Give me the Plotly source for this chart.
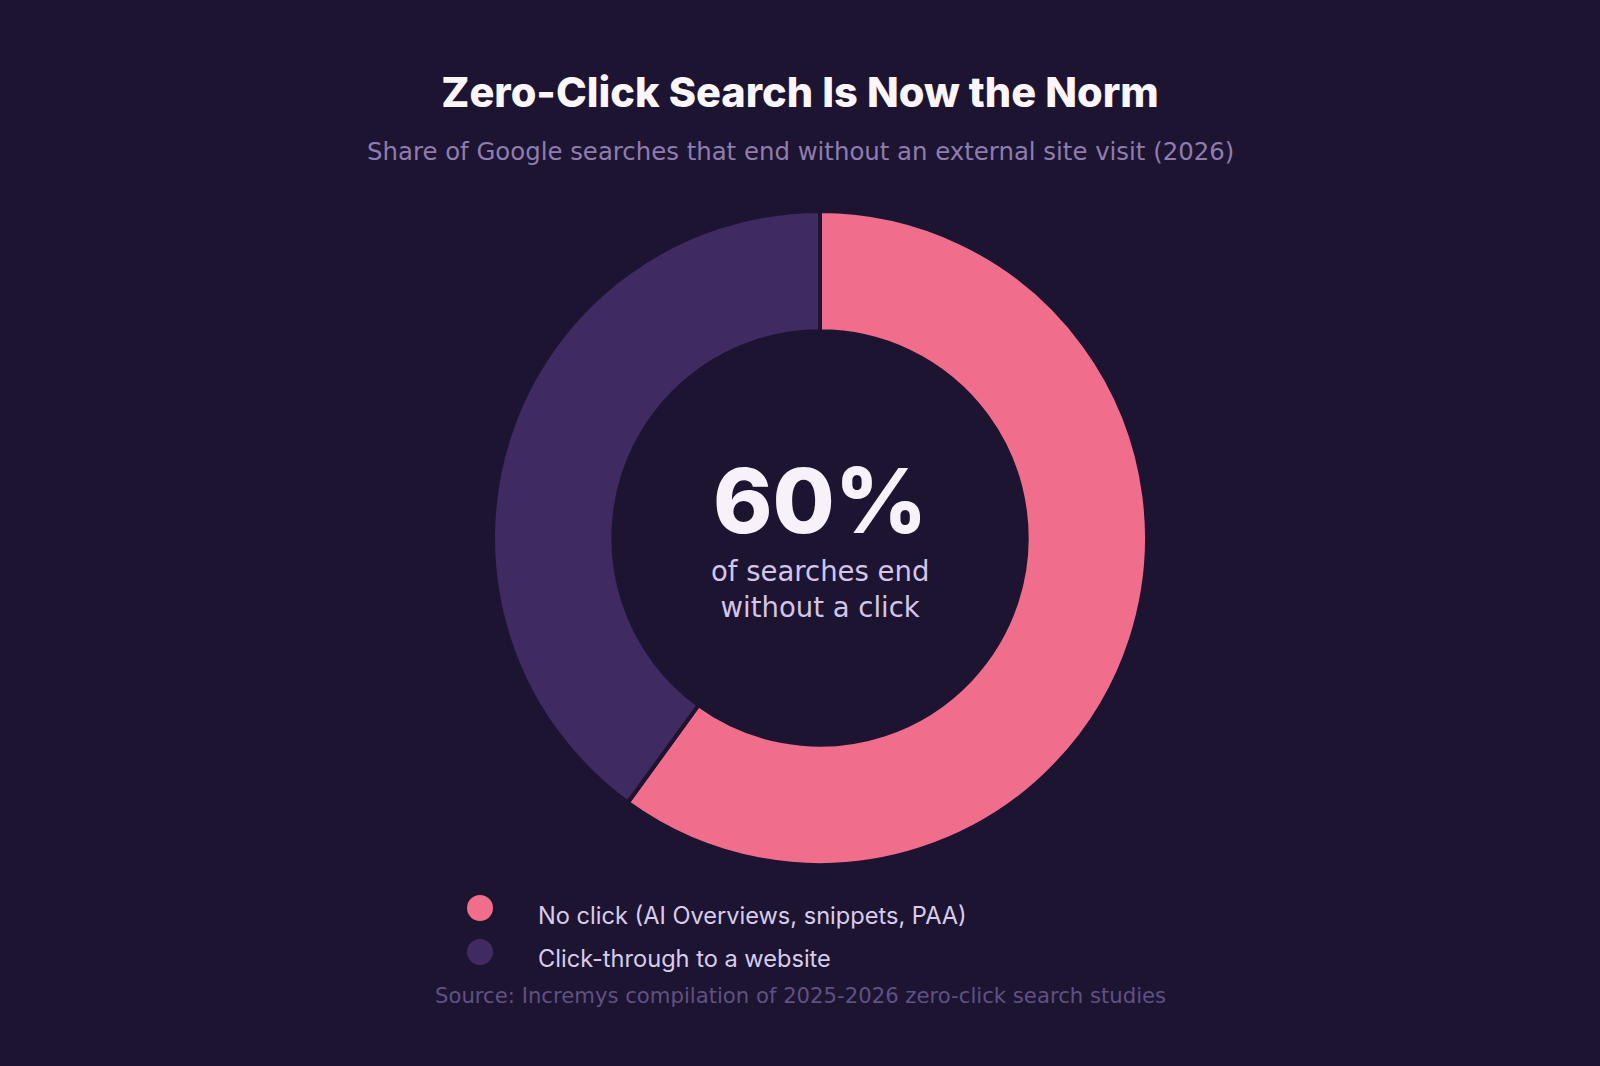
import plotly.graph_objects as go

W, H = 1600, 1066

labels = ["No click (AI Overviews, snippets, PAA)", "Click-through to a website"]
shares = [60, 40]
slice_colors = ["#F06E8C", "#3F2A62"]

title_text = "Zero-Click Search Is Now the Norm"
subtitle_text = "Share of Google searches that end without an external site visit (2026)"
center_big = "60%"
center_small = "of searches end<br>without a click"
source_text = "Source: Incremys compilation of 2025-2026 zero-click search studies"

bg = "#1D1431"


def px_x(x):
    return x / W


def px_y(y):
    # pixel from top -> paper fraction from bottom
    return 1 - y / H


# donut: centre (820, 538), radius in px
cx, cy, r = 820, 538, 327

fig = go.Figure()
fig.add_trace(go.Pie(
    labels=labels,
    values=shares,
    hole=0.632,
    sort=False,
    direction="clockwise",
    rotation=0,
    marker=dict(colors=slice_colors, line=dict(color=bg, width=4)),
    textinfo="none",
    hoverinfo="label+percent",
    showlegend=False,
    domain=dict(x=[px_x(cx - r), px_x(cx + r)], y=[px_y(cy + r), px_y(cy - r)]),
))

annotations = [
    dict(text=subtitle_text, x=0.5, y=px_y(151), xref="paper", yref="paper",
         xanchor="center", yanchor="middle", showarrow=False,
         font=dict(family="DejaVu Sans", size=24.4, color="#8E7DAE")),
    dict(text=center_big, x=px_x(cx), y=px_y(500), xref="paper", yref="paper",
         xanchor="center", yanchor="middle", showarrow=False,
         font=dict(family="Inter", size=90, color="#F8F1FA", weight=800)),
    dict(text=center_small, x=px_x(cx), y=px_y(589), xref="paper", yref="paper",
         xanchor="center", yanchor="middle", showarrow=False,
         font=dict(family="DejaVu Sans", size=27.5, color="#D4C5EA")),
    dict(text=source_text, x=0.5, y=px_y(995), xref="paper", yref="paper",
         xanchor="center", yanchor="middle", showarrow=False,
         font=dict(family="DejaVu Sans", size=21.2, color="#5F5183")),
]

# legend drawn by hand so the dots can be large circles
shapes = []
leg_dot_y = [908, 952]
for i, (lab, col) in enumerate(zip(labels, slice_colors)):
    shapes.append(dict(
        type="circle", xref="paper", yref="paper",
        xsizemode="pixel", ysizemode="pixel",
        xanchor=px_x(480), yanchor=px_y(leg_dot_y[i]),
        x0=-13, x1=13, y0=-13, y1=13,
        fillcolor=col, line=dict(width=0),
    ))
    annotations.append(dict(
        text=lab, x=px_x(536), y=px_y(leg_dot_y[i] + 7), xref="paper", yref="paper",
        xanchor="left", yanchor="middle", showarrow=False,
        font=dict(family="Inter", size=23.6, color="#D8CCEC"),
    ))

fig.update_layout(
    width=W, height=H,
    paper_bgcolor=bg, plot_bgcolor=bg,
    margin=dict(l=0, r=0, t=0, b=0),
    title=dict(text=title_text, x=0.5, xanchor="center", y=px_y(92), yanchor="middle",
               font=dict(family="Inter", size=41.5, color="#FBF6FC", weight=800)),
    annotations=annotations,
    shapes=shapes,
)

fig.write_html("out.html", config={"displayModeBar": False},
               post_script="document.body.style.margin='0';")
